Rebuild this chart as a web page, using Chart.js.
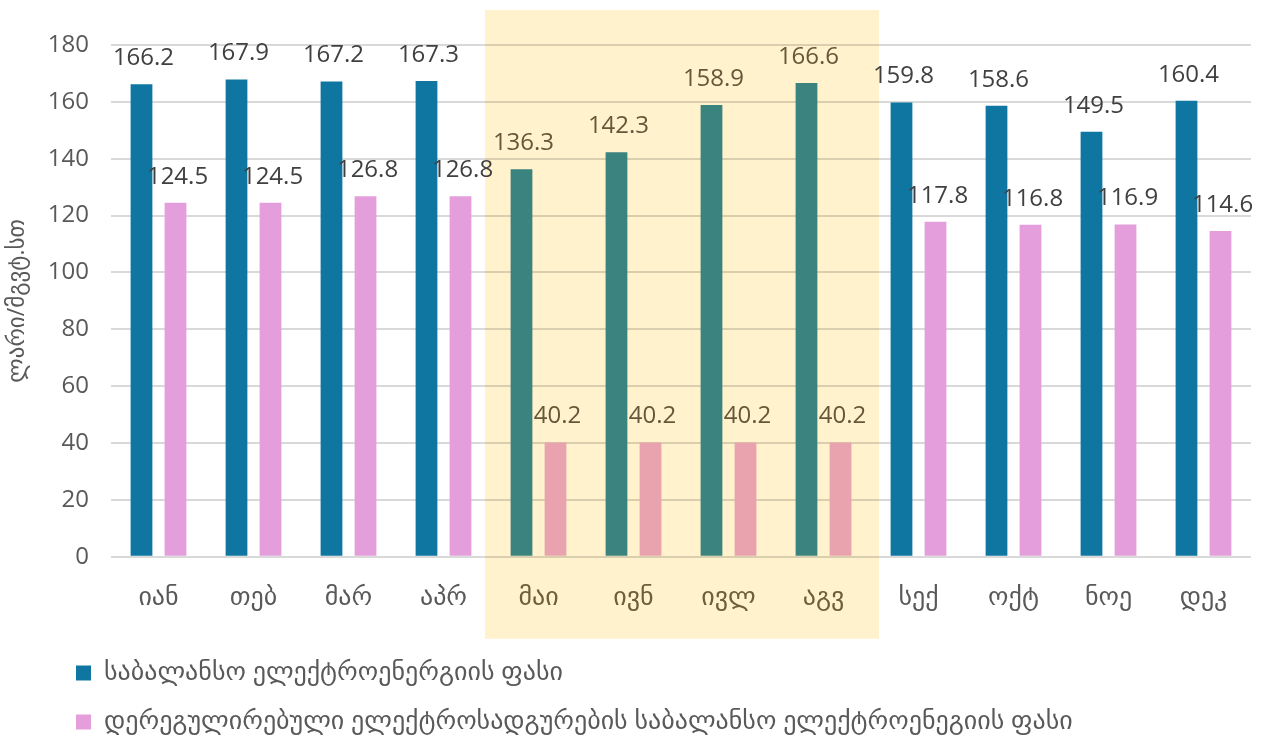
<!DOCTYPE html>
<html>
<head>
<meta charset="utf-8">
<script src="https://cdn.jsdelivr.net/npm/chart.js@4.4.1/dist/chart.umd.min.js"></script>
<style>
  html, body { margin: 0; padding: 0; background: #ffffff; }
  #wrap { width: 1266px; height: 742px; position: relative; }
</style>
</head>
<body>
<div id="wrap"><canvas id="c" width="1266" height="742"></canvas></div>
<script>
const months = ['იან','თებ','მარ','აპრ','მაი','ივნ','ივლ','აგვ','სექ','ოქტ','ნოე','დეკ'];
const balancingPrice = [166.2,167.9,167.2,167.3,136.3,142.3,158.9,166.6,159.8,158.6,149.5,160.4];
const deregulatedPrice = [124.5,124.5,126.8,126.8,40.2,40.2,40.2,40.2,117.8,116.8,116.9,114.6];
const seriesNames = ['საბალანსო ელექტროენერგიის ფასი','დერეგულირებული ელექტროსადგურების საბალანსო ელექტროენეგიის ფასი'];
const yTitle = 'ლარი/მგვტ.სთ';
const highlightFrom = 4;   // მაი
const highlightTo = 7;     // აგვ

const FONT = "'Open Sans', 'DejaVu Sans', sans-serif";
const inHL = i => i >= highlightFrom && i <= highlightTo;
const blueCols = months.map((m, i) => inHL(i) ? '#3b837f' : '#0e76a0');
const pinkCols = months.map((m, i) => inHL(i) ? '#e8a3ae' : '#e39edb');

const highlightPlugin = {
  id: 'hl',
  beforeDraw(chart) {
    const {ctx, scales: {x}, chartArea} = chart;
    const w = x.getPixelForValue(1) - x.getPixelForValue(0);
    const l = x.getPixelForValue(highlightFrom) - w / 2 - 6;
    const r = x.getPixelForValue(highlightTo) + w / 2 + 8;
    ctx.save();
    ctx.fillStyle = '#fff2cc';
    ctx.fillRect(l, chartArea.top - 35, r - l, chartArea.bottom - chartArea.top + 117);
    ctx.restore();
  }
};

const labelPlugin = {
  id: 'vals',
  afterDatasetsDraw(chart) {
    const {ctx} = chart;
    ctx.save();
    ctx.font = '24px ' + FONT;
    ctx.textAlign = 'center';
    ctx.textBaseline = 'alphabetic';
    chart.data.datasets.forEach((ds, di) => {
      chart.getDatasetMeta(di).data.forEach((bar, i) => {
        ctx.fillStyle = inHL(i) ? '#65583a' : '#404040';
        ctx.fillText(ds.data[i].toFixed(1), bar.x + 2, bar.y - 19);
      });
    });
    ctx.restore();
  }
};

const legendShift = {
  id: 'legendShift',
  afterLayout(chart) {
    chart.legend.left += 53;
    chart.legend.top -= 1;
  }
};

new Chart(document.getElementById('c'), {
  type: 'bar',
  data: {
    labels: months,
    datasets: [
      { label: seriesNames[0], data: balancingPrice, backgroundColor: blueCols,
        barPercentage: 0.64, categoryPercentage: 0.716 },
      { label: seriesNames[1], data: deregulatedPrice, backgroundColor: pinkCols,
        barPercentage: 0.64, categoryPercentage: 0.716 }
    ]
  },
  options: {
    responsive: false,
    animation: false,
    layout: { padding: { left: 0, right: 15, top: 45, bottom: -4 } },
    scales: {
      x: {
        grid: { display: false, drawTicks: false },
        border: { display: false },
        ticks: {
          padding: 25,
          font: { size: 26, family: FONT },
          color: c => inHL(c.index) ? '#6d5f3c' : '#595959'
        }
      },
      y: {
        min: 0, max: 180,
        ticks: { stepSize: 20, padding: 22, font: { size: 24, family: FONT }, color: '#595959' },
        grid: { color: 'rgba(0,0,0,0.15)', lineWidth: 2, drawTicks: false },
        border: { display: false },
        title: { display: true, text: yTitle, font: { size: 23, family: FONT }, color: '#595959', padding: { top: 4, bottom: 2 } },
        afterFit(s) { s.width = 111; }
      }
    },
    plugins: {
      legend: {
        position: 'bottom',
        align: 'start',
        labels: {
          boxWidth: 15, boxHeight: 15, padding: 23,
          font: { size: 26, family: FONT }, color: '#595959'
        }
      },
      tooltip: { enabled: false }
    }
  },
  plugins: [highlightPlugin, labelPlugin, legendShift]
});
</script>
</body>
</html>
